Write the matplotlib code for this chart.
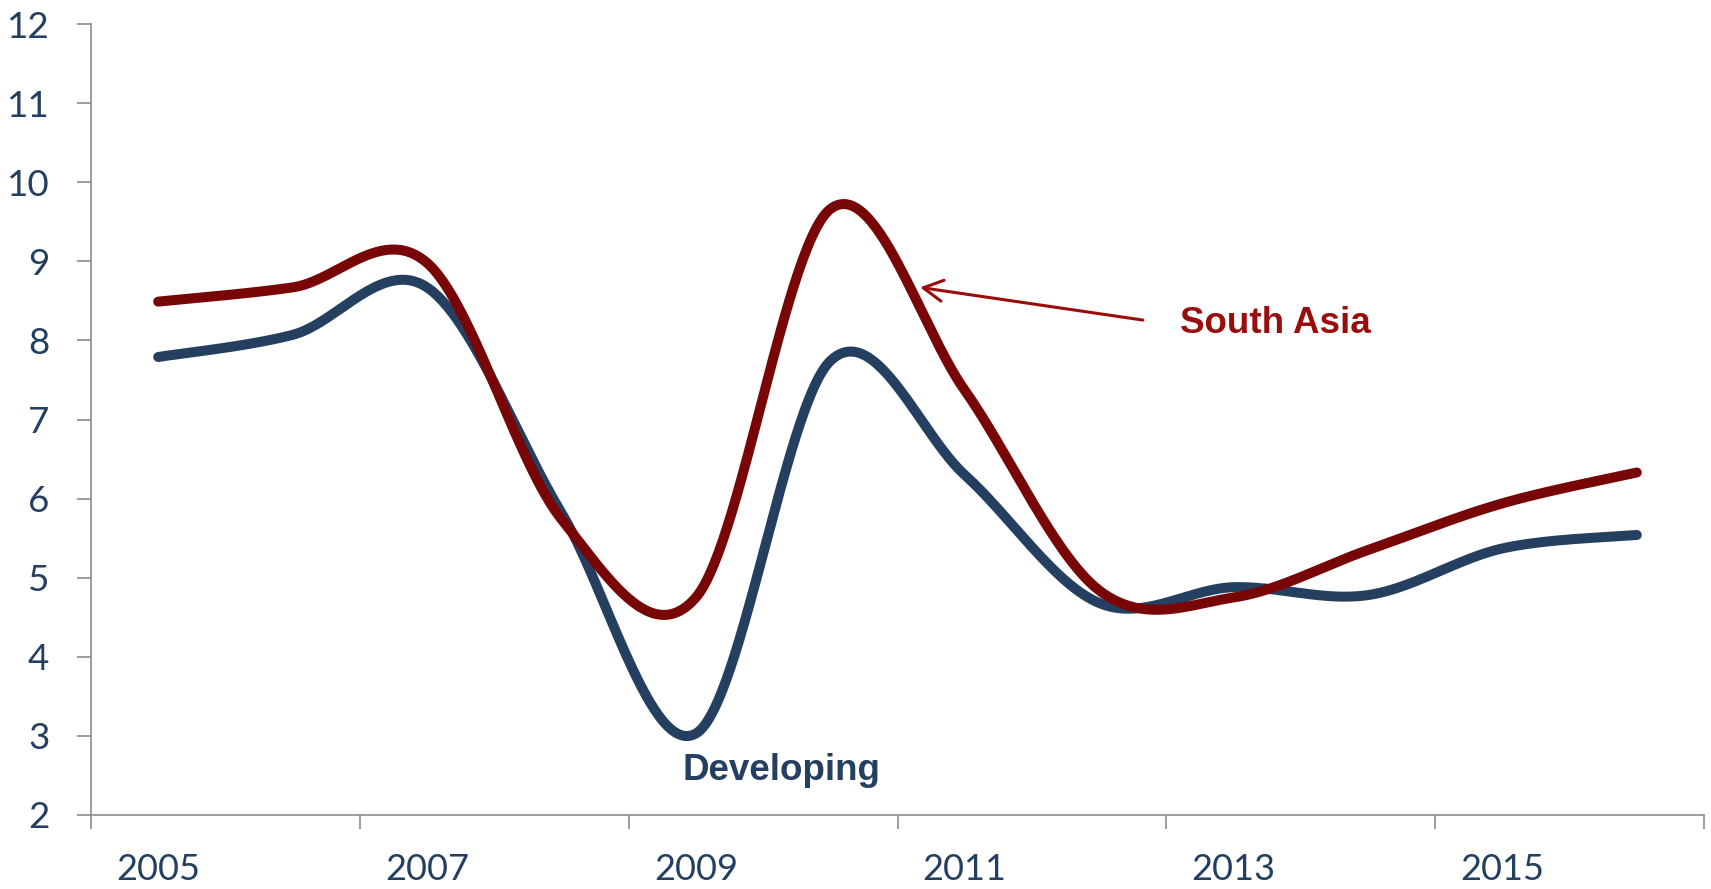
import matplotlib
matplotlib.use("Agg")
import matplotlib.pyplot as plt
import numpy as np

# data (annual growth, %)
years = [2005, 2006, 2007, 2008, 2009, 2010, 2011, 2012, 2013, 2014, 2015, 2016]
developing = [7.79, 8.07, 8.67, 5.82, 3.03, 7.74, 6.30, 4.68, 4.88, 4.78, 5.37, 5.54]
south_asia = [8.49, 8.67, 8.98, 5.74, 4.75, 9.66, 7.37, 4.84, 4.75, 5.35, 5.94, 6.33]
year_labels = ['2005', '2007', '2009', '2011', '2013', '2015']

blue = '#243f60'
red = '#780606'
txt_red = '#9b0c0c'
grey = '#8c8c8c'


def smooth(xs, ys, n=60):
    # excel-like smoothed line (catmull-rom as cubic bezier)
    p = np.column_stack([xs, ys]).astype(float)
    p_ext = np.vstack([p[0], p, p[-1]])
    t = np.linspace(0, 1, n)[:, None]
    out = []
    for i in range(len(p) - 1):
        p0, p3 = p_ext[i + 1], p_ext[i + 2]
        c1 = p0 + (p_ext[i + 2] - p_ext[i]) / 6
        c2 = p3 - (p_ext[i + 3] - p_ext[i + 1]) / 6
        seg = ((1 - t) ** 3) * p0 + 3 * ((1 - t) ** 2) * t * c1 + 3 * (1 - t) * t ** 2 * c2 + t ** 3 * p3
        out.append(seg if i == 0 else seg[1:])
    out = np.vstack(out)
    return out[:, 0], out[:, 1]


fig = plt.figure(figsize=(17.11, 8.89), dpi=100)
ax = fig.add_axes([91 / 1711, 1 - 815 / 889, (1704 - 91) / 1711, (815 - 24) / 889])

x = np.arange(len(years))
sx, sy = smooth(x, developing)
ax.plot(sx, sy, color=blue, lw=7.2, solid_capstyle='round', zorder=3)
sx, sy = smooth(x, south_asia)
ax.plot(sx, sy, color=red, lw=7.2, solid_capstyle='round', zorder=4)

ax.set_xlim(-0.5, len(years) - 0.5)
ax.set_ylim(2, 12)

# category axis: ticks between categories, labels every other year
ax.set_xticks(np.arange(-0.5, len(years), 2))
ax.set_xticklabels([])
ax.set_xticks(np.arange(0, len(years), 2), minor=True)
ax.set_xticklabels(year_labels, minor=True)
ax.tick_params(axis='x', which='major', length=10, width=1.2, color=grey, direction='out')
ax.tick_params(axis='x', which='minor', length=0, pad=27, labelsize=26, labelcolor=blue)

ax.set_yticks(range(2, 13))
ax.tick_params(axis='y', length=10, width=1.2, color=grey, direction='out', pad=20,
               labelsize=26.5, labelcolor=blue)

for lab in ax.get_xticklabels(minor=True) + ax.get_yticklabels():
    lab.set_family(['Lato', 'DejaVu Sans'])

for s in ['top', 'right']:
    ax.spines[s].set_visible(False)
for s in ['left', 'bottom']:
    ax.spines[s].set_color(grey)
    ax.spines[s].set_linewidth(1.2)

# labels for the two series
ax.text(7.603, 8.09, 'South Asia', color=txt_red, fontsize=26.5, fontweight='bold',
        family=['Liberation Sans', 'DejaVu Sans'], ha='left', va='baseline')
ax.annotate('', xy=(5.668, 8.67), xytext=(7.325, 8.257),
            arrowprops=dict(arrowstyle='->,head_length=0.7,head_width=0.38',
                            color=txt_red, lw=2.2, mutation_scale=20,
                            shrinkA=0, shrinkB=0))
ax.text(3.90, 2.44, 'Developing', color=blue, fontsize=26.5, fontweight='bold',
        family=['Liberation Sans', 'DejaVu Sans'], ha='left', va='baseline')

fig.savefig('out.png', dpi=100)
